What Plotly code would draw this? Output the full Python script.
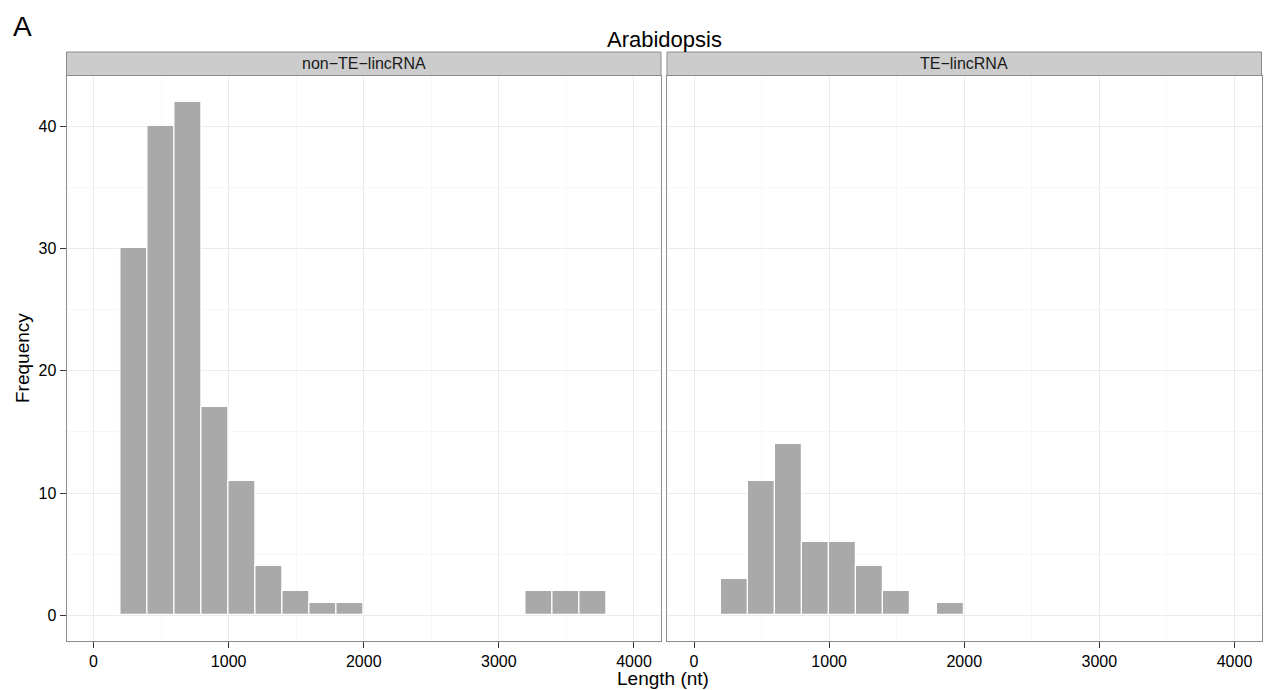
import plotly.graph_objects as go

# ---- data ----
bin_starts = [200, 400, 600, 800, 1000, 1200, 1400, 1600, 1800, 2000, 2200, 2400,
              2600, 2800, 3000, 3200, 3400, 3600]
bin_width = 200
non_te_counts = [30, 40, 42, 17, 11, 4, 2, 1, 1, 0, 0, 0, 0, 0, 0, 2, 2, 2]
te_counts = [3, 11, 14, 6, 6, 4, 2, 0, 1, 0, 0, 0, 0, 0, 0, 0, 0, 0]
panel_labels = ["non\u2212TE\u2212lincRNA", "TE\u2212lincRNA"]
x_ticks = [0, 1000, 2000, 3000, 4000]
y_ticks = [0, 10, 20, 30, 40]

W, H = 1276, 690
FONT = "Liberation Sans, Arial, Helvetica, sans-serif"

def px_x(p):
    return p / W

def px_y(p):
    return 1 - p / H

centers = [s + bin_width / 2 for s in bin_starts]

fig = go.Figure()
for i, counts in enumerate([non_te_counts, te_counts]):
    xs = [c for c, v in zip(centers, counts) if v > 0]
    ys = [v for v in counts if v > 0]
    fig.add_trace(go.Bar(
        x=xs, y=ys, width=bin_width,
        marker=dict(color="#A9A9A9", line=dict(color="white", width=1.2)),
        xaxis="x" if i == 0 else "x2", yaxis="y" if i == 0 else "y2",
        showlegend=False, hoverinfo="x+y",
    ))

left_dom = [px_x(66.5), px_x(661)]
right_dom = [px_x(667), px_x(1261.5)]
y_dom = [px_y(641), px_y(76)]

axis_common = dict(
    showline=True, mirror=True, linecolor="#8C8C8C", linewidth=1,
    gridcolor="#EBEBEB", gridwidth=1, zeroline=False,
    ticks="outside", ticklen=6, tickcolor="#333333", tickwidth=1.2,
    tickfont=dict(family=FONT, size=16, color="black"),
)

fig.update_layout(
    width=W, height=H,
    margin=dict(l=0, r=0, t=0, b=0),
    paper_bgcolor="white", plot_bgcolor="white",
    bargap=0,
    xaxis=dict(domain=left_dom, range=[-200, 4200], tickvals=x_ticks,
               minor=dict(dtick=500, tick0=0, showgrid=True, gridcolor="#F7F7F7"),
               anchor="y", **axis_common),
    xaxis2=dict(domain=right_dom, range=[-200, 4200], tickvals=x_ticks,
                minor=dict(dtick=500, tick0=0, showgrid=True, gridcolor="#F7F7F7"),
                anchor="y2", **axis_common),
    yaxis=dict(domain=y_dom, range=[-2.1, 44.1], tickvals=y_ticks,
               minor=dict(dtick=5, tick0=0, showgrid=True, gridcolor="#F7F7F7"),
               anchor="x", **axis_common),
    yaxis2=dict(domain=y_dom, range=[-2.1, 44.1], tickvals=y_ticks,
                minor=dict(dtick=5, tick0=0, showgrid=True, gridcolor="#F7F7F7"),
                anchor="x2", showticklabels=False,
                **{k: v for k, v in axis_common.items() if k not in ("ticks",)},
                ticks=""),
)

# strips
shapes = []
annotations = []
for dom, lab in zip([left_dom, right_dom], panel_labels):
    shapes.append(dict(type="rect", xref="paper", yref="paper",
                       x0=dom[0], x1=dom[1], y0=px_y(75.5), y1=px_y(52),
                       fillcolor="#CCCCCC", line=dict(color="#8C8C8C", width=1),
                       layer="below"))
    annotations.append(dict(text=lab, xref="paper", yref="paper",
                            x=(dom[0] + dom[1]) / 2, y=px_y(63.5),
                            showarrow=False, xanchor="center", yanchor="middle",
                            font=dict(family=FONT, size=16, color="#1A1A1A")))

annotations += [
    dict(text="Arabidopsis", xref="paper", yref="paper", x=px_x(664), y=px_y(39),
         showarrow=False, xanchor="center", yanchor="middle",
         font=dict(family=FONT, size=22, color="black")),
    dict(text="A", xref="paper", yref="paper", x=px_x(11), y=px_y(27),
         showarrow=False, xanchor="left", yanchor="middle",
         font=dict(family=FONT, size=28, color="black")),
    dict(text="Length (nt)", xref="paper", yref="paper", x=px_x(663), y=px_y(678),
         showarrow=False, xanchor="center", yanchor="middle",
         font=dict(family=FONT, size=19, color="black")),
    dict(text="Frequency", xref="paper", yref="paper", x=px_x(22), y=px_y(358),
         showarrow=False, xanchor="center", yanchor="middle", textangle=-90,
         font=dict(family=FONT, size=19, color="black")),
]

fig.update_layout(shapes=shapes, annotations=annotations)

fig.write_html("out.html")
